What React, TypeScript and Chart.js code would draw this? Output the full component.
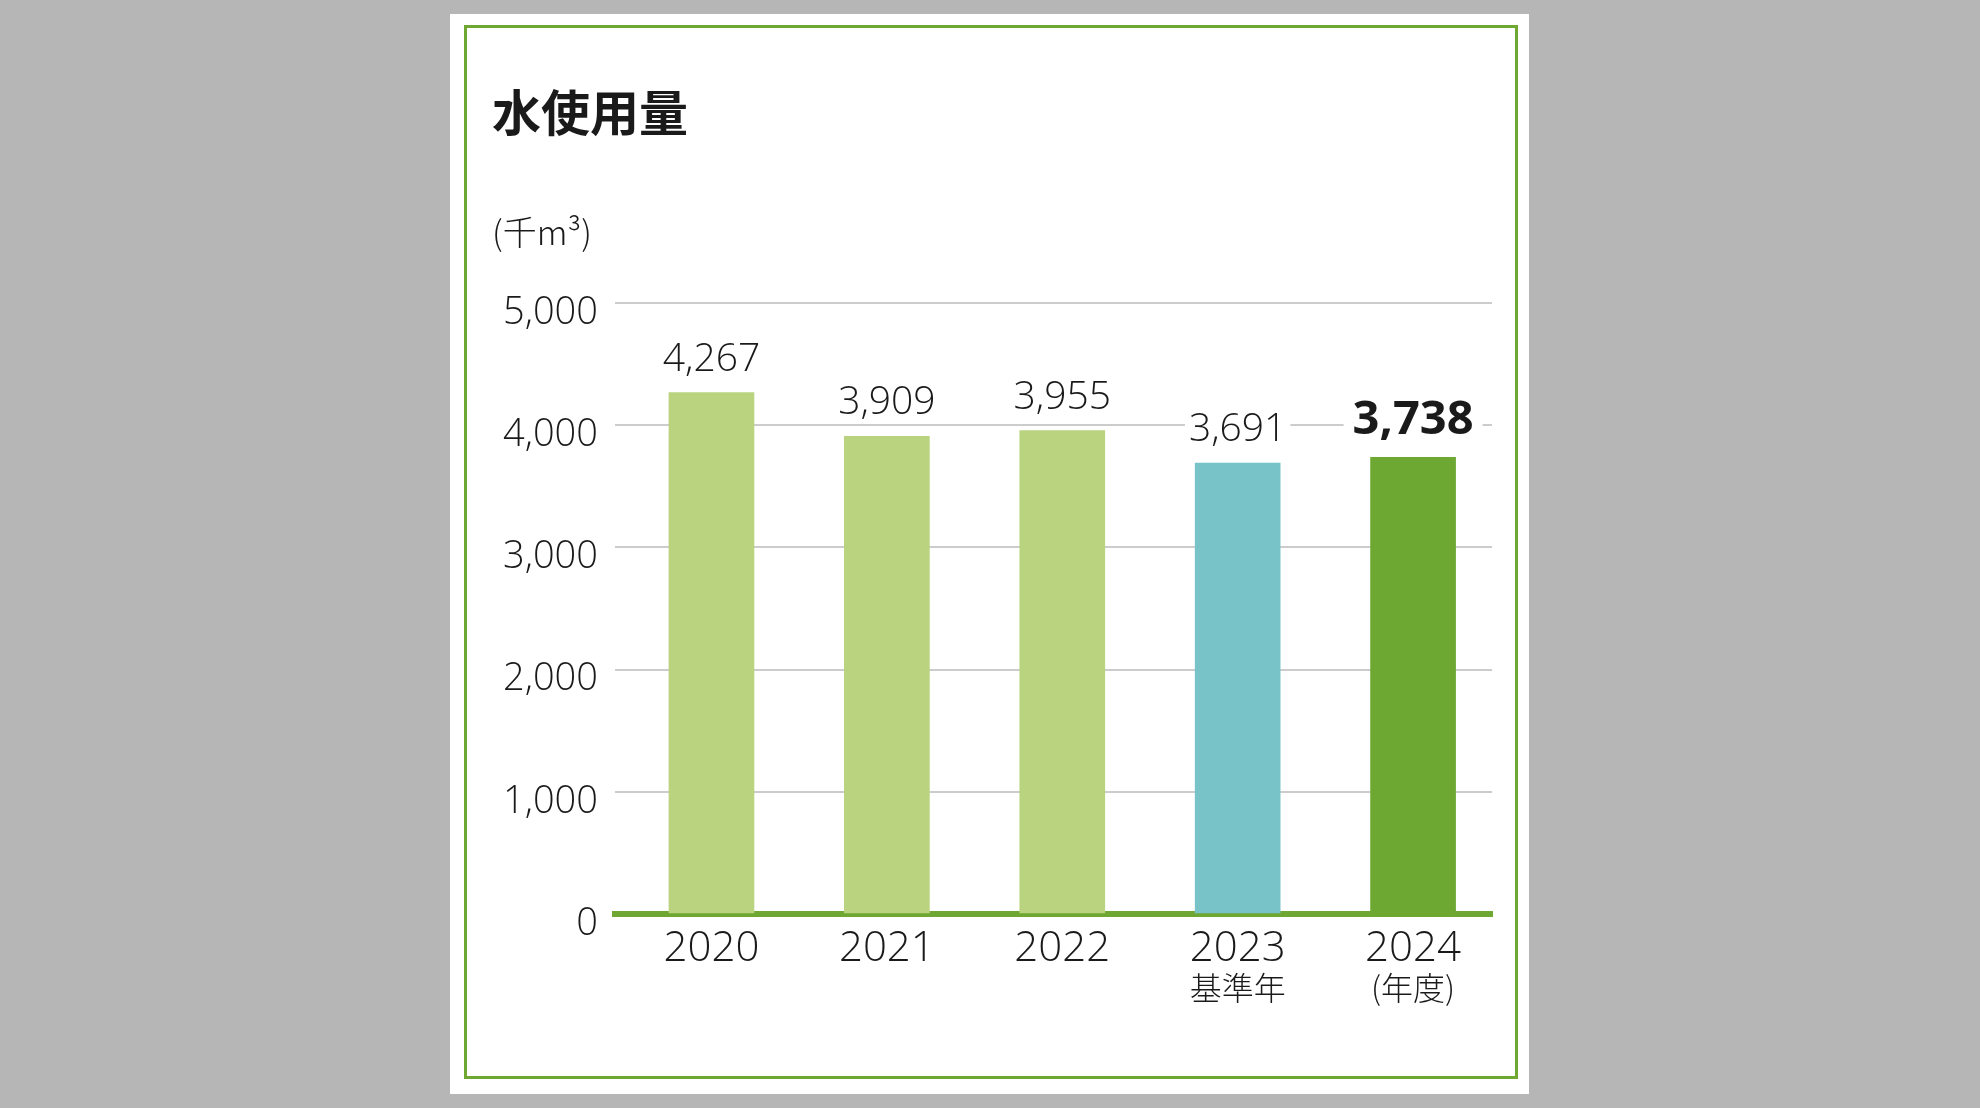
import React, { useEffect, useRef } from 'react';
import { Chart, registerables } from 'chart.js';
Chart.register(...registerables);

const years = ['2020', '2021', '2022', '2023', '2024'];
const subLabels = ['', '', '', '基準年', '(年度)'];
const usage = [4267, 3909, 3955, 3691, 3738];
const barColors = ['#b9d37f', '#b9d37f', '#b9d37f', '#77c3c8', '#6ca832'];
const boldBar = [false, false, false, false, true];
const yTicks = [0, 1000, 2000, 3000, 4000, 5000];

const NUM = "'Open Sans', 'Noto Sans', sans-serif";
const JP = "'Noto Sans CJK JP', sans-serif";
const TEXT = '#1a1a1a';

// value labels above bars, plus title / unit / sub captions
const labelPlugin = {
  id: 'waterLabels',
  afterDatasetsDraw(chart: any) {
    const { ctx } = chart;
    const meta = chart.getDatasetMeta(0);
    ctx.save();
    ctx.textAlign = 'center';
    ctx.textBaseline = 'alphabetic';
    meta.data.forEach((bar: any, i: number) => {
      const text = usage[i].toLocaleString('en-US');
      const bold = boldBar[i];
      ctx.font = bold ? `700 47px ${NUM}` : `300 39px ${NUM}`;
      const w = ctx.measureText(text).width;
      const baseY = bar.y - (bold ? 23 : 22);
      const pad = bold ? 9 : 4;
      const h = bold ? 40 : 35;
      ctx.fillStyle = '#ffffff';
      ctx.fillRect(bar.x - w / 2 - pad, baseY - h + 4, w + pad * 2, h);
      ctx.fillStyle = TEXT;
      ctx.fillText(text, bar.x, baseY);
    });
    ctx.restore();
  },
  afterDraw(chart: any) {
    const { ctx } = chart;
    const xScale = chart.scales.x;
    ctx.save();
    ctx.fillStyle = TEXT;
    ctx.textBaseline = 'middle';
    ctx.textAlign = 'left';
    ctx.font = `700 49px ${JP}`;
    ctx.fillText('水使用量', 42, 98.5);
    ctx.font = `300 34px ${JP}`;
    ctx.fillText('(千m³)', 42, 218.5);
    ctx.textAlign = 'center';
    ctx.font = `300 32px ${JP}`;
    subLabels.forEach((s, i) => {
      if (s) ctx.fillText(s, xScale.getPixelForValue(i), 974);
    });
    ctx.restore();
  },
};

export default function App() {
  const canvasRef = useRef<HTMLCanvasElement>(null);
  const chartRef = useRef<Chart | null>(null);

  useEffect(() => {
    let cancelled = false;
    const fontsReady = Promise.all([
      document.fonts.load(`300 38px ${NUM}`, '0123456789,'),
      document.fonts.load(`700 47px ${NUM}`, '0123456789,'),
      document.fonts.load(`700 49px ${JP}`, '水使用量'),
      document.fonts.load(`300 32px ${JP}`, '基準年度千'),
    ]).catch(() => null);

    fontsReady.then(() => {
      if (cancelled || !canvasRef.current) return;
      chartRef.current = new Chart(canvasRef.current, {
        type: 'bar',
        data: {
          datasets: [{
            data: usage.map((v, i) => ({ x: i, y: v })) as any,
            backgroundColor: barColors,
            barThickness: 85,
            borderWidth: 0,
          }],
        },
        options: {
          responsive: false,
          animation: false,
          layout: { padding: { left: 0, right: 37, top: 289, bottom: 0 } },
          plugins: {
            legend: { display: false },
            tooltip: { enabled: false },
          },
          scales: {
            x: {
              type: 'linear',
              min: -0.55,
              max: 4.45,
              offset: false,
              z: 1,
              afterBuildTicks: (s: any) => { s.ticks = years.map((_, i) => ({ value: i })); },
              afterFit: (s: any) => { s.height = 180; },
              grid: { display: false, drawTicks: false, offset: false },
              border: { display: true, color: '#6ea832', width: 6 },
              ticks: {
                padding: 10,
                color: TEXT,
                autoSkip: false,
                maxRotation: 0,
                font: { family: NUM, size: 42, weight: 300 as any },
                callback: (v: any) => years[v] ?? '',
              },
            },
            y: {
              min: 0,
              max: 5000,
              afterBuildTicks: (s: any) => { s.ticks = yTicks.map((v) => ({ value: v })); },
              afterFit: (s: any) => { s.width = 165; },
              grid: {
                color: (c: any) => (c.tick && c.tick.value === 0 ? 'rgba(0,0,0,0)' : '#cccccc'),
                lineWidth: 2,
                drawTicks: false,
              },
              border: { display: false },
              ticks: {
                padding: 17,
                labelOffset: 10,
                color: TEXT,
                font: { family: NUM, size: 38, weight: 300 as any },
                callback: (v: any) => Number(v).toLocaleString('en-US'),
              },
            },
          },
        },
        plugins: [labelPlugin],
      });
    });

    return () => {
      cancelled = true;
      if (chartRef.current) {
        chartRef.current.destroy();
        chartRef.current = null;
      }
    };
  }, []);

  return (
    <div style={{ position: 'fixed', inset: 0, background: '#b5b6b5' }}>
      <div style={{ position: 'absolute', left: 450, top: 14, width: 1079, height: 1080, background: '#ffffff' }}>
        <div
          style={{
            position: 'absolute', left: 14, top: 11, width: 1054, height: 1054,
            boxSizing: 'border-box', border: '3px solid #6ea832',
          }}
        />
        <canvas
          ref={canvasRef}
          width={1079}
          height={1080}
          style={{ position: 'absolute', left: 0, top: 0, display: 'block' }}
        />
      </div>
    </div>
  );
}
